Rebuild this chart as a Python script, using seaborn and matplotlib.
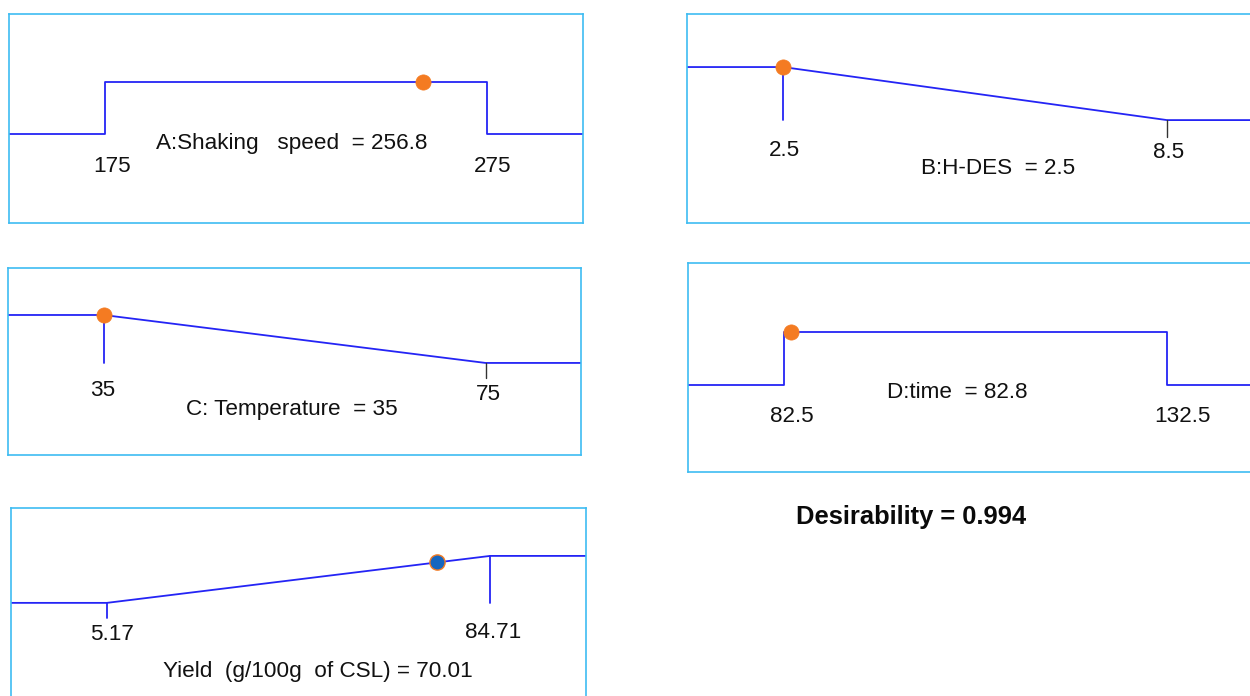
import matplotlib
matplotlib.use("Agg")
import matplotlib.pyplot as plt
import numpy as np
import pandas as pd
import seaborn as sns

# ---------------- data ----------------
names = ["A:Shaking   speed", "B:H-DES", "C: Temperature", "D:time", "Yield  (g/100g  of CSL)"]
lows = [175, 2.5, 35, 82.5, 5.17]
highs = [275, 8.5, 75, 132.5, 84.71]
goals = ["range", "min", "min", "range", "max"]
low_labels = ["175", "2.5", "35", "82.5", "5.17"]
high_labels = ["275", "8.5", "75", "132.5", "84.71"]
solution_labels = ["256.8", "2.5", "35", "82.8", "70.01"]
marker_x = [258.3, 2.5, 35, 83.4, 73.6]   # dot positions as drawn
desirability = 0.994

# ---------------- style ----------------
sns.set_theme(style="white")
plt.rcParams["font.family"] = ["Liberation Sans", "DejaVu Sans"]

W, H = 1250, 696
fig = plt.figure(figsize=(W / 100, H / 100), dpi=100)
fig.patch.set_facecolor("white")

LINE = "#2424f5"
BORDER = "#3ebcf2"
ORANGE = "#f47b22"
DOTBLUE = "#1666bf"

# box in pixels (x0, y0, x1, y1) and y limits (desirability units)
boxes = [(9, 14, 583, 223), (687, 14, 1263, 223), (8, 268, 581, 455),
         (688, 263, 1263, 472), (11, 508, 586, 717)]
ylims = [(-1.71, 2.31), (-1.94, 2.0), (-1.92, 1.98), (-1.64, 2.30), (-2.43, 2.02)]
# text centers in pixels: low label, high label, name label
txt_low = [(112, 166), (785, 150), (103, 391), (792, 416), (112, 634)]
txt_high = [(493, 166), (1169, 153), (488, 394), (1182, 416), (493, 632)]
txt_name = [(292, 144), (998, 169), (292, 410), (957, 392), (318, 672)]


def dfun(x, lo, hi, goal):
    t = np.clip((x - lo) / (hi - lo), 0, 1)
    if goal == "range":
        return 1.0 if lo <= x <= hi else 0.0
    if goal == "min":
        return 1 - t
    return t


for i in range(5):
    lo, hi, goal = lows[i], highs[i], goals[i]
    r = hi - lo
    xmin, xmax = lo - r / 4, hi + r / 4
    x0, y0, x1, y1 = boxes[i]
    ax = fig.add_axes([x0 / W, 1 - y1 / H, (x1 - x0) / W, (y1 - y0) / H])
    ax.set_xlim(xmin, xmax)
    ax.set_ylim(*ylims[i])

    if goal == "range":
        xs = [xmin, lo, lo, hi, hi, xmax]
        ds = [0, 0, 1, 1, 0, 0]
    elif goal == "min":
        xs = [xmin, lo, hi, xmax]
        ds = [1, 1, 0, 0]
    else:
        xs = [xmin, lo, hi, xmax]
        ds = [0, 0, 1, 1]
    curve = pd.DataFrame({"x": xs, "d": ds})
    sns.lineplot(data=curve, x="x", y="d", sort=False, estimator=None,
                 color=LINE, lw=1.3, ax=ax)

    # limit ticks
    if goal == "min":
        ax.plot([lo, lo], [1, 0], color=LINE, lw=1.3)
        ax.plot([hi, hi], [0, -0.32], color="#333333", lw=1.0)
    elif goal == "max":
        ax.plot([lo, lo], [0, -0.33], color=LINE, lw=1.3)
        ax.plot([hi, hi], [1, 0], color=LINE, lw=1.3)

    mx = marker_x[i]
    pt = pd.DataFrame({"x": [mx], "d": [dfun(mx, lo, hi, goal)]})
    if i == 4:
        sns.scatterplot(data=pt, x="x", y="d", s=120, color=DOTBLUE,
                        edgecolor=ORANGE, linewidth=1.0, zorder=5, ax=ax)
    else:
        sns.scatterplot(data=pt, x="x", y="d", s=120, color=ORANGE,
                        edgecolor=ORANGE, linewidth=0.5, zorder=5, ax=ax)

    ax.set_xticks([])
    ax.set_yticks([])
    ax.set_xlabel("")
    ax.set_ylabel("")
    for sp in ax.spines.values():
        sp.set_visible(True)
        sp.set_color(BORDER)
        sp.set_linewidth(1.2)

    fs = 16.2
    for (px, py), s in [(txt_low[i], low_labels[i]), (txt_high[i], high_labels[i]),
                        (txt_name[i], f"{names[i]}  = {solution_labels[i]}" if i < 4
                         else f"{names[i]} = {solution_labels[i]}")]:
        fig.text(px / W, 1 - py / H, s, ha="center", va="center",
                 fontsize=fs, color="#111111")

fig.text(911 / W, 1 - 517 / H, f"Desirability = {desirability}", ha="center",
         va="center", fontsize=18.4, fontweight="bold", color="#0a0a0a")

fig.savefig("out.png", dpi=100)
